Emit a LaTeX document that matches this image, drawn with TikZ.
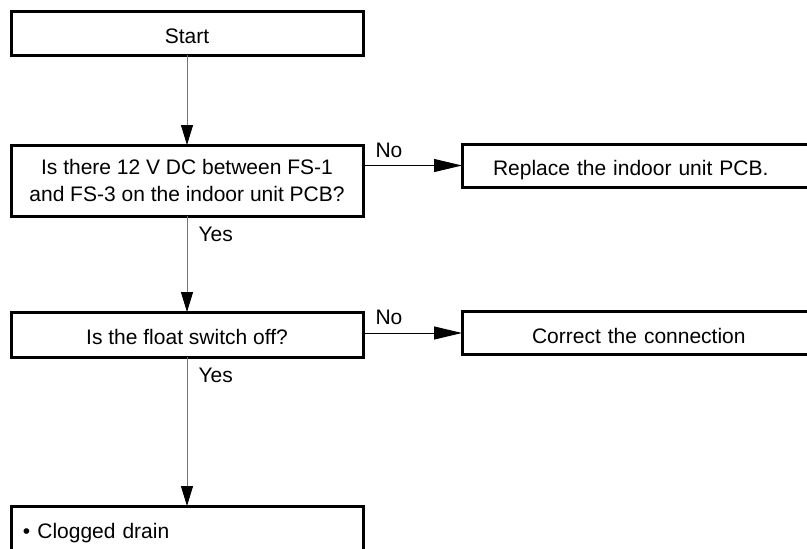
\documentclass[tikz,border=0pt]{standalone}
\usepackage{fontspec}
\setmainfont{Liberation Sans}
\usetikzlibrary{arrows.meta, positioning}
\newcommand{\chartfont}{\fontsize{21}{27.5}\selectfont}
\tikzset{
  box/.style    ={rectangle, draw=black, line width=3pt, outer sep=0pt, minimum width=352pt,
                  minimum height=45pt, align=center, font=\chartfont},
  single/.style ={text height=25pt, text depth=4.2pt},
  actbox/.style ={rectangle, draw=black, line width=3pt, outer sep=0pt, minimum height=43pt,
                  align=left, font=\chartfont, text height=25pt, text depth=4.2pt},
  flow/.style   ={-{Triangle[length=20pt, width=12pt, color=black]}, draw=black!55, line width=1pt},
  noflow/.style ={-{Triangle[length=28pt, width=13pt]}, draw=black, line width=1pt},
  lbl/.style    ={inner sep=0pt, font=\chartfont},
}

\begin{document}
\begin{tikzpicture}[x=1pt, y=-1pt]
    \useasboundingbox (0,0) rectangle (807,549);
    \clip (0,0) rectangle (807,549);
    \node[box, single, minimum height=44pt] (start) at (187,33) {Start};
    \node[box, below=90pt of start, minimum height=71pt] (dec1) {Is there 12 V DC between FS-1\\ and FS-3 on the indoor unit PCB?};
    \node[box, single, below=96pt of dec1] (flt) {Is the float switch off?};
    \node[box, single, below=149pt of flt, align=left, text width=328pt, inner xsep=12pt] (clg) {\textbullet{} Clogged drain};
    \node[actbox, right=99pt of dec1, yshift=15pt, inner xsep=31pt, text width=305pt] (rep) {Replace the indoor unit PCB.};
    \node[actbox, right=99pt of flt, yshift=1.5pt, inner xsep=70pt, text width=227pt] (cor) {Correct the connection};
    \draw[flow] (start) -- (dec1);
    \draw[flow] (dec1) -- node[lbl, pos=0, anchor=north west, xshift=11pt, yshift=-11pt] {Yes} (flt);
    \draw[flow] (flt) -- node[lbl, pos=0, anchor=north west, xshift=11pt, yshift=-11pt] {Yes} (clg);
    \draw[noflow] (dec1.east |- rep) -- node[lbl, pos=0, anchor=south west, xshift=12pt, yshift=7.5pt] {No} (rep);
    \draw[noflow] (flt.east |- cor) -- node[lbl, pos=0, anchor=south west, xshift=12pt, yshift=7.5pt] {No} (cor);
\end{tikzpicture}
\end{document}
